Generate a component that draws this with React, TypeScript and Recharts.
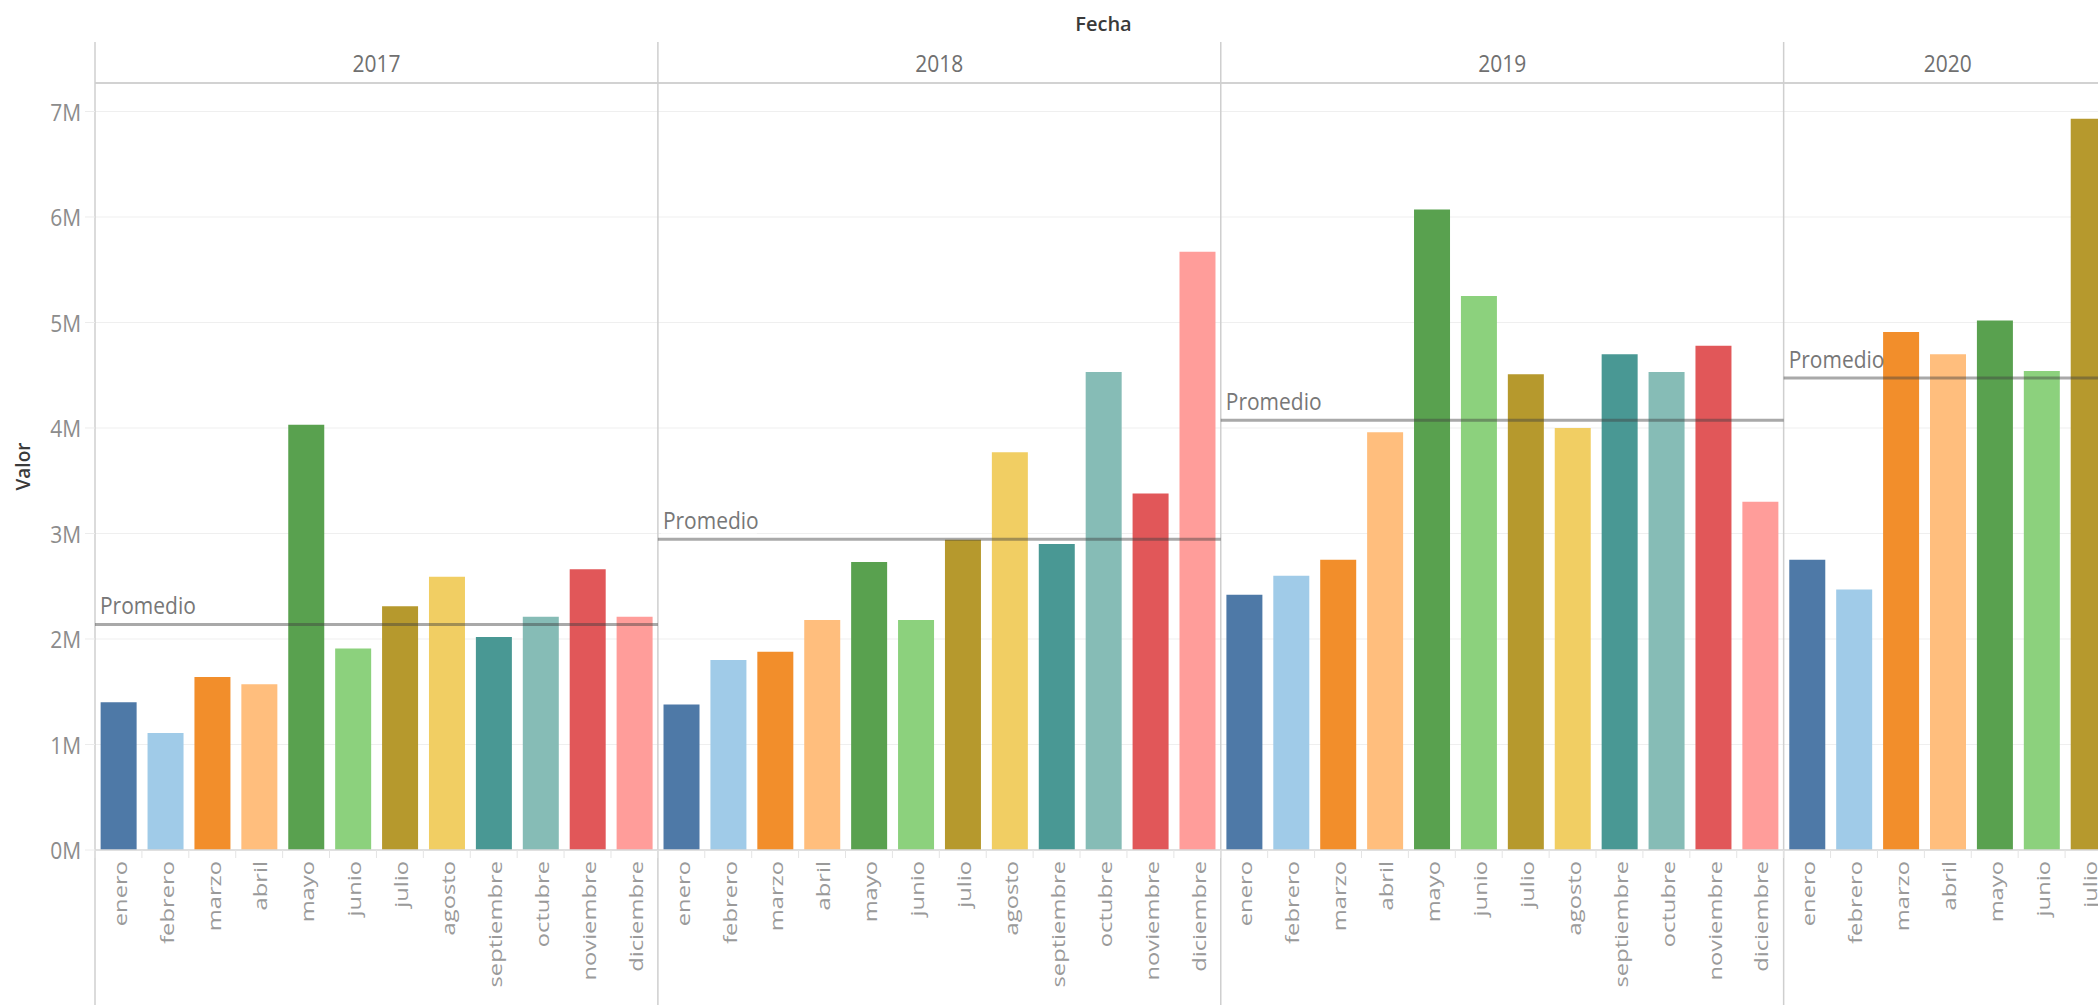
import React from 'react';
import { BarChart, Bar, Cell, XAxis, YAxis, CartesianGrid, ReferenceLine } from 'recharts';

// Valores mensuales en millones
const MESES = ['enero', 'febrero', 'marzo', 'abril', 'mayo', 'junio', 'julio', 'agosto', 'septiembre', 'octubre', 'noviembre', 'diciembre'];
const ANIOS = ['2017', '2018', '2019', '2020'];
const valores2017 = [1.40, 1.11, 1.64, 1.57, 4.03, 1.91, 2.31, 2.59, 2.02, 2.21, 2.66, 2.21];
const valores2018 = [1.38, 1.80, 1.88, 2.18, 2.73, 2.18, 2.94, 3.77, 2.90, 4.53, 3.38, 5.67];
const valores2019 = [2.42, 2.60, 2.75, 3.96, 6.07, 5.25, 4.51, 4.00, 4.70, 4.53, 4.78, 3.30];
const valores2020 = [2.75, 2.47, 4.91, 4.70, 5.02, 4.54, 6.93];
const Y_TICKS = [0, 1, 2, 3, 4, 5, 6, 7];
const Y_MAX = 7.27;

// paleta Tableau 20, un color por mes
const COLORES_MES = ['#4E79A7', '#A0CBE8', '#F28E2B', '#FFBE7D', '#59A14F', '#8CD17D', '#B6992D', '#F1CE63', '#499894', '#86BCB6', '#E15759', '#FF9D9A'];

const SERIES = [valores2017, valores2018, valores2019, valores2020];

const clave = (m: number, anio: string) => `${MESES[m]} ${anio}`;

const data = ANIOS.flatMap((anio, a) =>
  SERIES[a].map((valor, m) => ({ clave: clave(m, anio), mes: MESES[m], m, anio, valor }))
);

// un panel por año: primer y último mes, cantidad de meses y promedio
const paneles = ANIOS.map((anio, a) => {
  const vals = SERIES[a];
  const inicio = SERIES.slice(0, a).reduce((s, v) => s + v.length, 0);
  const promedio = vals.reduce((s, v) => s + v, 0) / vals.length;
  return { anio, inicio, n: vals.length, primero: clave(0, anio), ultimo: clave(vals.length - 1, anio), promedio };
});

const CHART_W = 2112;
const CHART_H = 1005;
const HEADER_H = 41;
const FONT = '"Open Sans", sans-serif';

const MesTick = (props: any) => {
  const { x, y, payload } = props;
  const half = payload.offset || 0;
  const row = data[payload.index];
  return (
    <g>
      <line x1={x - half} x2={x - half} y1={y - 8} y2={y} stroke="#e4e4e4" />
      <text
        transform={`translate(${x + 1},${y + 3}) rotate(-90) scale(1.32,1)`}
        textAnchor="end"
        dominantBaseline="central"
        fontSize={18}
        fill="#9a9a9a"
        fontFamily={FONT}
      >
        {row ? row.mes : ''}
      </text>
    </g>
  );
};

// rótulo del año centrado sobre su panel; se dibuja desde el primer mes
const AnioTick = (props: any) => {
  const { x, y, payload } = props;
  const panel = paneles.find((p) => p.inicio === payload.index);
  if (!panel) return null;
  const half = payload.offset || 0;
  const cx = x - half + panel.n * half;
  return (
    <text
      transform={`translate(${cx},${y}) scale(1,1.1)`}
      textAnchor="middle"
      dominantBaseline="central"
      fontSize={21}
      fill="#707070"
      fontFamily={FONT}
    >
      {panel.anio}
    </text>
  );
};

const ValorTick = (props: any) => {
  const { x, y, payload } = props;
  return (
    <text
      transform={`translate(${x},${y}) scale(1,1.15)`}
      textAnchor="end"
      dominantBaseline="central"
      fontSize={21}
      fill="#8c8c8c"
      fontFamily={FONT}
    >
      {`${payload.value}M`}
    </text>
  );
};

const Separador = (p: any) => {
  const top = Math.min(p.y1, p.y2) - HEADER_H;
  return <line x1={p.x1} x2={p.x2} y1={top} y2={CHART_H} stroke="#cfcfcf" strokeWidth={1.5} />;
};

// línea de promedio: va del inicio del primer mes al final del último
const Promedio = (p: any) => {
  const { x1, x2, y1, meses } = p;
  const paso = meses > 1 ? (x2 - x1) / (meses - 1) : 0;
  const fin = x2 + paso;
  return (
    <g>
      <line x1={x1} x2={fin} y1={y1} y2={y1} stroke="#404040" strokeOpacity={0.45} strokeWidth={3} />
      <rect x={x1 + 3} y={y1 - 31} width={96} height={26} fill="#fff" fillOpacity={0.5} />
      <text
        transform={`translate(${x1 + 5},${y1 - 10}) scale(1,1.12)`}
        fontSize={21}
        fill="#777"
        fontFamily={FONT}
      >
        Promedio
      </text>
    </g>
  );
};

export default function App() {
  return (
    <div
      style={{
        position: 'fixed',
        left: 0,
        top: 0,
        width: 2098,
        height: 1005,
        overflow: 'hidden',
        background: '#fff',
        fontFamily: FONT,
      }}
    >
      <BarChart
        width={CHART_W}
        height={CHART_H}
        data={data}
        margin={{ top: 42, right: 0, bottom: 0, left: 15 }}
        barCategoryGap="12%"
      >
        <CartesianGrid xAxisId="cat" vertical={false} stroke="#efefef" />
        <XAxis
          xAxisId="cat"
          dataKey="clave"
          orientation="bottom"
          height={155}
          interval={0}
          tickLine={false}
          axisLine={{ stroke: '#d9d9d9', strokeWidth: 1.5 }}
          tick={<MesTick />}
        />
        <XAxis
          xAxisId="top"
          dataKey="clave"
          orientation="top"
          height={HEADER_H}
          interval={0}
          tickSize={0}
          tickMargin={20}
          tickLine={false}
          axisLine={false}
          tick={<AnioTick />}
          label={{
            content: (lp: any) => {
              const vb = lp.viewBox || { x: 95, y: 42, width: 2017 };
              return (
                <text
                  x={vb.x + vb.width / 2}
                  y={vb.y - 19}
                  textAnchor="middle"
                  dominantBaseline="central"
                  fontSize={20}
                  fontWeight={600}
                  fill="#3a3a3a"
                  fontFamily={FONT}
                >
                  Fecha
                </text>
              );
            },
          }}
        />
        <YAxis
          type="number"
          domain={[0, Y_MAX]}
          allowDataOverflow
          ticks={Y_TICKS}
          width={80}
          tickSize={10}
          tickMargin={4}
          tickLine={{ stroke: '#ececec' }}
          axisLine={false}
          tick={<ValorTick />}
          label={{
            content: (lp: any) => {
              const vb = lp.viewBox || { x: 15, y: 83, width: 80, height: 767 };
              return (
                <text
                  transform={`translate(${vb.x + 8},${vb.y + vb.height / 2}) rotate(-90)`}
                  textAnchor="middle"
                  dominantBaseline="central"
                  fontSize={19}
                  fontWeight={600}
                  fill="#3a3a3a"
                  fontFamily={FONT}
                >
                  Valor
                </text>
              );
            },
          }}
        />
        <Bar xAxisId="cat" dataKey="valor" isAnimationActive={false}>
          {data.map((d) => (
            <Cell key={d.clave} fill={COLORES_MES[d.m]} />
          ))}
        </Bar>
        <ReferenceLine xAxisId="cat" y={Y_MAX} stroke="#d2d2d2" strokeWidth={2} />
        {paneles.map((p) => (
          <ReferenceLine key={`sep-${p.anio}`} xAxisId="cat" x={p.primero} position="start" shape={Separador} />
        ))}
        {paneles.map((p) => (
          <ReferenceLine
            key={`prom-${p.anio}`}
            xAxisId="cat"
            position="start"
            segment={[
              { x: p.primero, y: p.promedio },
              { x: p.ultimo, y: p.promedio },
            ]}
            shape={(sp: any) => <Promedio {...sp} meses={p.n} />}
          />
        ))}
      </BarChart>
    </div>
  );
}
